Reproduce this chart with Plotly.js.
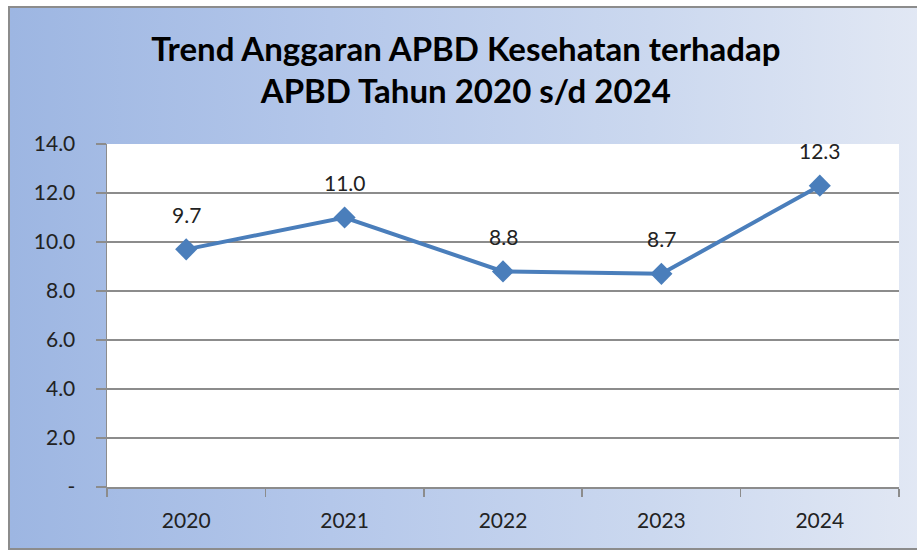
<!DOCTYPE html>
<html><head><meta charset="utf-8">
<script src="https://cdn.plot.ly/plotly-3.0.1.min.js"></script>
<style>
html,body{margin:0;padding:0;background:#fff;width:917px;height:550px;overflow:hidden;}
#frame{position:absolute;left:8px;top:6px;width:915px;height:540px;border:2px solid #8c8c8c;
background:linear-gradient(to right,#9db6e2 0%,#b4c7ea 35%,#cbd8ef 70%,#e2e8f4 100%);}
#chart{position:absolute;left:0;top:0;width:917px;height:550px;}
</style></head>
<body>
<div id="frame"></div>
<div id="chart"></div>
<script>
var years = ['2020','2021','2022','2023','2024'];
var values = [9.7, 11.0, 8.8, 8.7, 12.3];
var yTickVals = [0,2,4,6,8,10,12,14];
var yTickText = ['-','2.0','4.0','6.0','8.0','10.0','12.0','14.0'];
var titleText = 'Trend Anggaran APBD Kesehatan terhadap<br>APBD Tahun 2020 s/d 2024';

var font = 'Lato, "Open Sans", sans-serif';
var trace = {
  x: years, y: values, type: 'scatter', mode: 'lines+markers',
  line: {color: '#4a7ebb', width: 4},
  marker: {symbol: 'diamond', size: 17, color: '#4a7ebb'},
  hoverinfo: 'none'
};
var annotations = years.map(function(y, i){
  return {x: i, y: values[i], xref: 'x', yref: 'y', text: values[i].toFixed(1), showarrow: false,
    yshift: 35, font: {family: font, size: 21, color: '#222'}};
});
var layout = {
  width: 917, height: 550,
  paper_bgcolor: 'rgba(0,0,0,0)', plot_bgcolor: '#fff',
  margin: {l: 107, r: 18, t: 144, b: 63},
  showlegend: false,
  title: {text: titleText, x: 0.508, xanchor: 'center', yref: 'container', y: 0.89, yanchor: 'top',
    font: {family: font, size: 33, color: '#000', weight: 'bold'}},
  xaxis: {type: 'category', range: [-0.5, 4.5], tickson: 'boundaries',
    ticks: 'outside', ticklen: 8, tickcolor: '#8c8c8c', tickwidth: 1.5,
    showline: true, linecolor: '#8c8c8c', linewidth: 1.5, showgrid: false,
    ticklabelstandoff: 14,
    tickfont: {family: font, size: 21, color: '#222'}, fixedrange: true},
  yaxis: {range: [0, 14], tickvals: yTickVals, ticktext: yTickText,
    ticks: 'outside', ticklen: 10, tickcolor: '#8c8c8c', tickwidth: 1.5,
    showline: true, linecolor: '#8c8c8c', linewidth: 1.5,
    showgrid: true, gridcolor: '#8c8c8c', gridwidth: 1.5, zeroline: false,
    ticklabelstandoff: 16,
    tickfont: {family: font, size: 21, color: '#222'}, fixedrange: true},
  annotations: annotations
};
Plotly.newPlot('chart', [trace], layout, {displayModeBar: false, staticPlot: true});
</script>
</body></html>
